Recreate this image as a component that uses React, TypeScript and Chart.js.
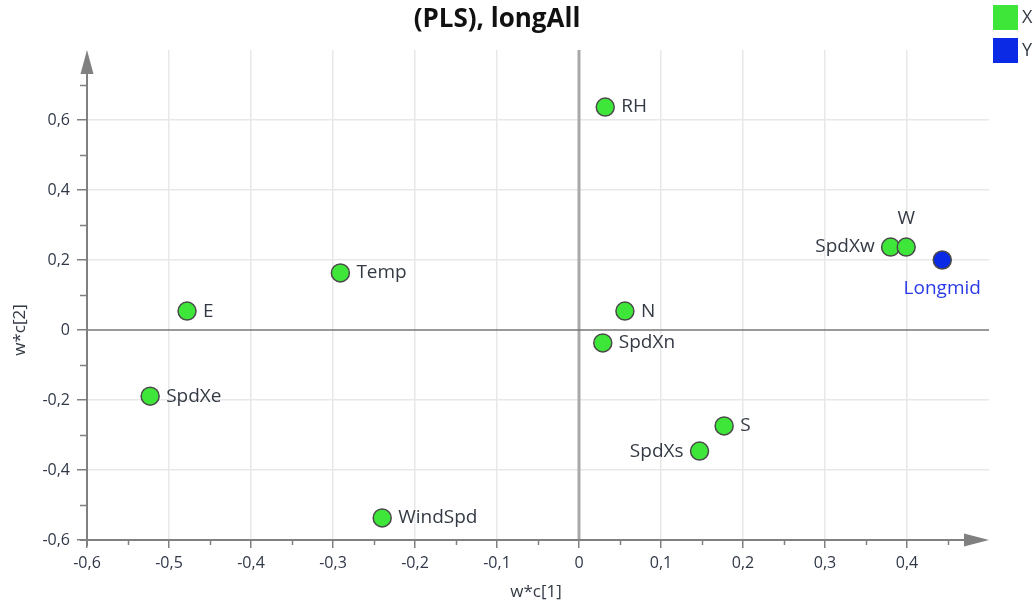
import React, { useEffect, useRef } from "react";
import { Chart, registerables } from "chart.js";

Chart.register(...registerables);

const titleText = "(PLS), longAll";
const xAxisTitle = "w*c[1]";
const yAxisTitle = "w*c[2]";

const xNames = ["RH", "Temp", "E", "SpdXe", "WindSpd", "N", "SpdXn", "S", "SpdXs", "SpdXw", "W"];
const xValsC1 = [0.032, -0.291, -0.478, -0.523, -0.24, 0.056, 0.029, 0.177, 0.147, 0.38, 0.399];
const xValsC2 = [0.637, 0.163, 0.054, -0.189, -0.537, 0.054, -0.037, -0.274, -0.346, 0.237, 0.237];

const yNames = ["Longmid"];
const yValsC1 = [0.443];
const yValsC2 = [0.2];

const seriesNames = ["X", "Y"];

const labelPlacement: Record<string, string> = {
  W: "above",
  SpdXw: "left",
  SpdXs: "left",
  Longmid: "below",
};

const GREEN = "#3fe63a";
const BLUE = "#0a2ae6";
const FONT = "'Open Sans', 'DejaVu Sans', sans-serif";

const fmt = (v: number) => {
  if (Math.abs(v) < 1e-9) return "0";
  return v.toFixed(1).replace(".", ",");
};
const near = (a: number, b: number) => Math.abs(a - b) < 1e-6;

const decorPlugin = {
  id: "decor",
  beforeDatasetsDraw(chart: any) {
    const { ctx, scales } = chart;
    const xs = scales.x;
    const ys = scales.y;
    const x0 = xs.getPixelForValue(0);
    const y0 = ys.getPixelForValue(0);
    const left = xs.getPixelForValue(-0.6);
    const bottom = ys.getPixelForValue(-0.6);
    const top = ys.getPixelForValue(0.8);
    const right = xs.getPixelForValue(0.5);
    ctx.save();
    // zero lines
    ctx.strokeStyle = "#a9a9a9";
    ctx.lineWidth = 3;
    ctx.beginPath();
    ctx.moveTo(x0, top);
    ctx.lineTo(x0, bottom);
    ctx.stroke();
    ctx.strokeStyle = "#777777";
    ctx.lineWidth = 1.5;
    ctx.beginPath();
    ctx.moveTo(left, y0);
    ctx.lineTo(right, y0);
    ctx.stroke();
    // axis lines
    ctx.strokeStyle = "#808080";
    ctx.fillStyle = "#808080";
    ctx.lineWidth = 2;
    ctx.beginPath();
    ctx.moveTo(left - 7, bottom);
    ctx.lineTo(right - 22, bottom);
    ctx.moveTo(left, bottom + 6);
    ctx.lineTo(left, top + 22);
    ctx.stroke();
    // arrows
    ctx.beginPath();
    ctx.moveTo(left, top);
    ctx.lineTo(left - 6.5, top + 24);
    ctx.lineTo(left + 6.5, top + 24);
    ctx.closePath();
    ctx.fill();
    ctx.beginPath();
    ctx.moveTo(right, bottom);
    ctx.lineTo(right - 25, bottom - 6.5);
    ctx.lineTo(right - 25, bottom + 6.5);
    ctx.closePath();
    ctx.fill();
    // minor ticks
    ctx.lineWidth = 1.5;
    ctx.beginPath();
    for (let v = -0.55; v < 0.46; v += 0.1) {
      const px = Math.round(xs.getPixelForValue(v)) + 0.5;
      ctx.moveTo(px, bottom);
      ctx.lineTo(px, bottom + 5);
    }
    for (let v = -0.5; v < 0.75; v += 0.2) {
      const py = Math.round(ys.getPixelForValue(v)) + 0.5;
      ctx.moveTo(left, py);
      ctx.lineTo(left - 7, py);
    }
    ctx.stroke();
    ctx.restore();
  },
  afterDatasetsDraw(chart: any) {
    const { ctx } = chart;
    ctx.save();
    ctx.font = `19px ${FONT}`;
    ctx.textBaseline = "middle";
    chart.data.datasets.forEach((ds: any, di: number) => {
      const meta = chart.getDatasetMeta(di);
      meta.data.forEach((pt: any, i: number) => {
        const name = ds.names[i];
        const place = labelPlacement[name] || "right";
        ctx.fillStyle = di === 1 ? "#2a3ae6" : "#333a44";
        if (place === "right") {
          ctx.textAlign = "left";
          ctx.fillText(name, pt.x + 16, pt.y);
        } else if (place === "left") {
          ctx.textAlign = "right";
          ctx.fillText(name, pt.x - 16, pt.y);
        } else if (place === "above") {
          ctx.textAlign = "center";
          ctx.fillText(name, pt.x, pt.y - 28);
        } else {
          ctx.textAlign = "center";
          ctx.fillText(name, pt.x, pt.y + 29);
        }
      });
    });
    ctx.restore();
  },
  afterDraw(chart: any) {
    const { ctx } = chart;
    ctx.save();
    // title
    ctx.fillStyle = "#111111";
    ctx.font = `bold 26px ${FONT}`;
    ctx.textAlign = "center";
    ctx.textBaseline = "middle";
    ctx.fillText(titleText, 497, 20);
    // axis titles
    ctx.font = `17px ${FONT}`;
    ctx.fillStyle = "#333a44";
    ctx.fillText(xAxisTitle, 536, 592);
    ctx.save();
    ctx.translate(20, 330);
    ctx.rotate(-Math.PI / 2);
    ctx.fillText(yAxisTitle, 0, 0);
    ctx.restore();
    // legend
    chart.data.datasets.forEach((ds: any, i: number) => {
      const y = 5 + i * 33;
      ctx.fillStyle = ds.backgroundColor;
      ctx.fillRect(993, y, 25, 25);
      ctx.fillStyle = "#333a44";
      ctx.font = `18px ${FONT}`;
      ctx.textAlign = "left";
      ctx.fillText(seriesNames[i], 1022, y + 13);
    });
    ctx.restore();
  },
};

export default function App() {
  const ref = useRef<HTMLCanvasElement | null>(null);
  useEffect(() => {
    if (!ref.current) return;
    const gridColor = (maxV: number) => (c: any) => {
      const v = c.tick?.value;
      if (v === undefined) return "transparent";
      if (near(v, 0) || near(v, -0.6) || near(v, maxV)) return "transparent";
      return "#e8e8e8";
    };
    const tickColor = (maxV: number) => (c: any) => {
      const v = c.tick?.value;
      if (v === undefined || near(v, maxV)) return "transparent";
      return "#808080";
    };
    const chart = new Chart(ref.current, {
      type: "scatter",
      data: {
        datasets: [
          {
            label: seriesNames[0],
            names: xNames,
            data: xValsC1.map((x, i) => ({ x, y: xValsC2[i] })),
            backgroundColor: GREEN,
            borderColor: "#4a4a4a",
            borderWidth: 1.5,
            pointRadius: 9,
          } as any,
          {
            label: seriesNames[1],
            names: yNames,
            data: yValsC1.map((x, i) => ({ x, y: yValsC2[i] })),
            backgroundColor: BLUE,
            borderColor: "#4a4a4a",
            borderWidth: 1.5,
            pointRadius: 9,
          } as any,
        ],
      },
      options: {
        animation: false,
        responsive: false,
        layout: { padding: { top: 50, right: 47, left: 0, bottom: 0 } },
        plugins: { legend: { display: false }, title: { display: false }, tooltip: { enabled: false } },
        scales: {
          x: {
            type: "linear",
            min: -0.6,
            max: 0.5,
            border: { display: false },
            grid: { color: gridColor(0.5), tickColor: tickColor(0.5), tickLength: 8, lineWidth: 1.5, tickWidth: 1.5 },
            ticks: {
              stepSize: 0.1,
              padding: 6,
              color: "#303848",
              font: { family: FONT, size: 16 },
              maxRotation: 0,
              autoSkip: false,
              callback: (v: any) => (near(v, 0.5) ? "" : fmt(v)),
            },
            afterFit: (s: any) => {
              s.height = 65;
            },
          },
          y: {
            type: "linear",
            min: -0.6,
            max: 0.8,
            border: { display: false },
            grid: { color: gridColor(0.8), tickColor: tickColor(0.8), tickLength: 10, lineWidth: 1.5, tickWidth: 1.5 },
            ticks: {
              stepSize: 0.2,
              padding: 7,
              color: "#303848",
              font: { family: FONT, size: 16 },
              autoSkip: false,
              callback: (v: any) => (near(v, 0.8) ? "" : fmt(v)),
            },
            afterFit: (s: any) => {
              s.width = 87;
            },
          },
        },
      } as any,
      plugins: [decorPlugin],
    });
    return () => chart.destroy();
  }, []);
  return (
    <div style={{ position: "fixed", left: 0, top: 0, width: 1036, height: 605, background: "#fff" }}>
      <canvas ref={ref} width={1036} height={605} style={{ display: "block" }} />
    </div>
  );
}
